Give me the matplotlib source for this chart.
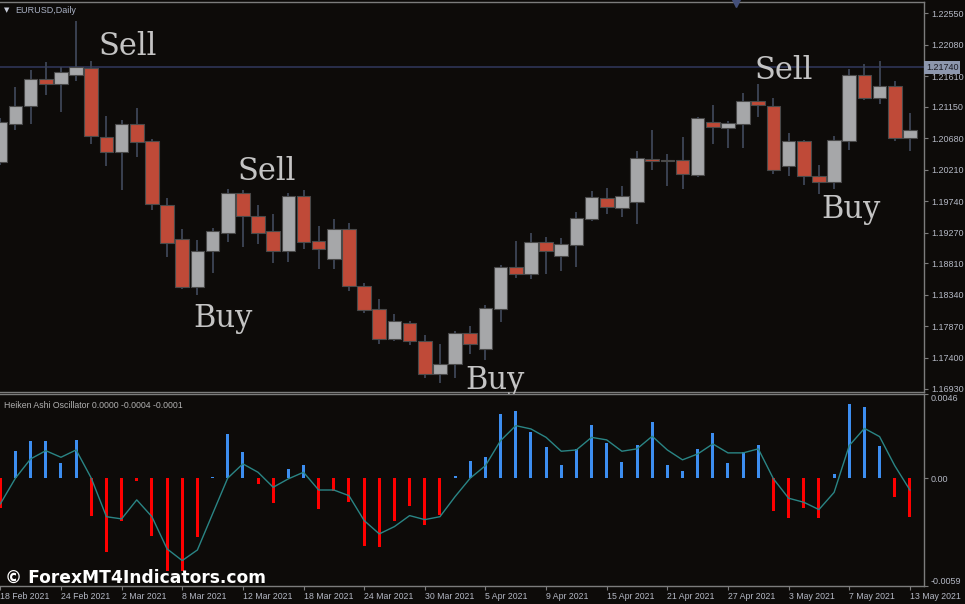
import matplotlib
matplotlib.use("Agg")
import matplotlib.pyplot as plt
import matplotlib.transforms as mtransforms

# ---------------- data ----------------
opens = [1.2033, 1.2090, 1.2117, 1.2156, 1.2149, 1.2163, 1.2173, 1.2070, 1.2048, 1.2090,
         1.2064, 1.1968, 1.1918, 1.1845, 1.1899, 1.1927, 1.1986, 1.1952, 1.1929, 1.1900,
         1.1981, 1.1914, 1.1887, 1.1933, 1.1847, 1.1812, 1.1767, 1.1791, 1.1764, 1.1716,
         1.1730, 1.1777, 1.1753, 1.1813, 1.1875, 1.1865, 1.1913, 1.1892, 1.1909, 1.1947,
         1.1978, 1.1963, 1.1972, 1.2037, 1.2034, 1.2035, 1.2013, 1.2093, 1.2084, 1.2089,
         1.2124, 1.2117, 1.2027, 1.2064, 1.2011, 1.2003, 1.2064, 1.2163, 1.2128, 1.2147,
         1.2069]
closes = [1.2092, 1.2117, 1.2156, 1.2149, 1.2167, 1.2174, 1.2072, 1.2048, 1.2090, 1.2062,
          1.1969, 1.1912, 1.1845, 1.1900, 1.1929, 1.1986, 1.1952, 1.1926, 1.1900, 1.1981,
          1.1913, 1.1903, 1.1933, 1.1847, 1.1811, 1.1767, 1.1794, 1.1765, 1.1716, 1.1730,
          1.1777, 1.1760, 1.1814, 1.1875, 1.1865, 1.1913, 1.1900, 1.1910, 1.1949, 1.1980,
          1.1965, 1.1981, 1.2038, 1.2034, 1.2036, 1.2014, 1.2098, 1.2085, 1.2091, 1.2124,
          1.2118, 1.2020, 1.2064, 1.2012, 1.2003, 1.2065, 1.2163, 1.2128, 1.2147, 1.2069,
          1.2080]
highs = [1.2098, 1.2145, 1.2170, 1.2182, 1.2175, 1.2244, 1.2184, 1.2102, 1.2095, 1.2113,
         1.2067, 1.1978, 1.1933, 1.1916, 1.1934, 1.1992, 1.1990, 1.1968, 1.1954, 1.1986,
         1.1990, 1.1937, 1.1947, 1.1941, 1.1852, 1.1827, 1.1805, 1.1794, 1.1774, 1.1760,
         1.1780, 1.1787, 1.1819, 1.1878, 1.1914, 1.1927, 1.1920, 1.1919, 1.1957, 1.1989,
         1.1994, 1.1996, 1.2049, 1.2080, 1.2044, 1.2070, 1.2100, 1.2118, 1.2094, 1.2136,
         1.2150, 1.2128, 1.2076, 1.2065, 1.2028, 1.2072, 1.2172, 1.2179, 1.2183, 1.2153,
         1.2106]
lows = [1.2028, 1.2080, 1.2089, 1.2133, 1.2108, 1.2154, 1.2059, 1.2026, 1.1990, 1.2040,
        1.1960, 1.1891, 1.1842, 1.1834, 1.1867, 1.1913, 1.1905, 1.1910, 1.1881, 1.1883,
        1.1903, 1.1872, 1.1872, 1.1840, 1.1807, 1.1760, 1.1765, 1.1759, 1.1709, 1.1702,
        1.1710, 1.1746, 1.1736, 1.1793, 1.1859, 1.1858, 1.1865, 1.1870, 1.1875, 1.1945,
        1.1954, 1.1950, 1.1940, 1.2020, 1.1996, 1.1992, 1.2010, 1.2059, 1.2054, 1.2053,
        1.2100, 1.2014, 1.2012, 1.1998, 1.1985, 1.1992, 1.2051, 1.2125, 1.2120, 1.2064,
        1.2049]

osc = [-0.00163, 0.00150, 0.00201, 0.00205, 0.00081, 0.00210, -0.00205, -0.00406, -0.00236, -0.00014,
       -0.00318, -0.00510, -0.00510, -0.00324, 0.00005, 0.00242, 0.00145, -0.00032, -0.00138, 0.00050,
       0.00072, -0.00168, -0.00068, -0.00132, -0.00369, -0.00375, -0.00236, -0.00150, -0.00256, -0.00200,
       0.00012, 0.00096, 0.00118, 0.00351, 0.00369, 0.00250, 0.00168, 0.00074, 0.00158, 0.00293,
       0.00190, 0.00090, 0.00183, 0.00309, 0.00074, 0.00039, 0.00158, 0.00247, 0.00081, 0.00141,
       0.00183, -0.00178, -0.00220, -0.00163, -0.00220, 0.00023, 0.00406, 0.00387, 0.00174, -0.00101,
       -0.00211]
signal = [-0.00141, 0.00000, 0.00105, 0.00150, 0.00114, 0.00154, 0.00000, -0.00211, -0.00223, -0.00119,
          -0.00211, -0.00387, -0.00451, -0.00393, -0.00196, 0.00000, 0.00078, 0.00032, -0.00050, -0.00004,
          0.00032, -0.00065, -0.00065, -0.00096, -0.00232, -0.00305, -0.00265, -0.00205, -0.00227, -0.00211,
          -0.00101, 0.00000, 0.00068, 0.00205, 0.00287, 0.00269, 0.00223, 0.00147, 0.00154, 0.00223,
          0.00209, 0.00147, 0.00160, 0.00229, 0.00154, 0.00100, 0.00132, 0.00187, 0.00138, 0.00138,
          0.00160, -0.00004, -0.00110, -0.00132, -0.00172, -0.00078, 0.00178, 0.00272, 0.00227, 0.00068,
          -0.00065]

date_ticks = [0, 4, 8, 12, 16, 20, 24, 28, 32, 36, 40, 44, 48, 52, 56, 60]
date_labels = ["18 Feb 2021", "24 Feb 2021", "2 Mar 2021", "8 Mar 2021", "12 Mar 2021",
               "18 Mar 2021", "24 Mar 2021", "30 Mar 2021", "5 Apr 2021", "9 Apr 2021",
               "15 Apr 2021", "21 Apr 2021", "27 Apr 2021", "3 May 2021", "7 May 2021",
               "13 May 2021"]
price_ticks = [1.22550, 1.22080, 1.21610, 1.21150, 1.20680, 1.20210, 1.19740,
               1.19270, 1.18810, 1.18340, 1.17870, 1.17400, 1.16930]
osc_ticks = [0.0046, 0.0, -0.0059]
osc_tick_labels = ["0.0046", "0.00", "-0.0059"]
current_price = 1.21740

signals_text = ["Sell", "Sell", "Buy", "Buy", "Sell", "Buy"]
signals_x = [6.46, 15.63, 12.73, 30.70, 49.72, 54.18]
signals_y = [1.21926, 1.20056, 1.17861, 1.16929, 1.21567, 1.19483]

# ---------------- style ----------------
BG = "#0d0b09"
UP = "#a6a7a9"
DN = "#bf4a38"
WICK = "#3a4150"
EDGE = "#4a4a4a"
AXC = "#7c7c7c"
TXT = "#b4b8c4"

W, H = 965, 604
fig = plt.figure(figsize=(W / 100, H / 100), dpi=100, facecolor=BG)

def px_axes(left, top, right, bottom):
    return fig.add_axes([left / W, 1 - bottom / H, (right - left) / W, (bottom - top) / H])

ax1 = px_axes(0, 1.5, 924, 392)
ax2 = px_axes(0, 394, 924, 586)

xlim = (-0.02, 60.93)
n = len(opens)
xs = list(range(n))

for ax in (ax1, ax2):
    ax.set_facecolor(BG)
    ax.set_xlim(*xlim)
    for s in ("top", "right", "bottom"):
        ax.spines[s].set_color(AXC)
        ax.spines[s].set_linewidth(1.0)
    ax.spines["left"].set_visible(False)
    ax.yaxis.tick_right()
    ax.tick_params(axis="y", colors=AXC, labelcolor=TXT, length=3, width=0.8,
                   labelsize=6.5, pad=2)

# ---------------- candles ----------------
ax1.set_ylim(1.16884, 1.22727)
ax1.axhline(current_price, color="#2b3150", lw=1.3, zorder=1)
for i in xs:
    o, c, h, l = opens[i], closes[i], highs[i], lows[i]
    col = UP if c >= o else DN
    ax1.vlines(i, l, h, color=WICK, lw=1.4, zorder=2)
    ax1.bar(i, max(abs(c - o), 0.00003), bottom=min(o, c), width=0.9, color=col,
            edgecolor=EDGE, linewidth=0.8, zorder=3)

ax1.set_xticks([])
ax1.set_yticks(price_ticks)
ax1.set_yticklabels([f"{v:.5f}" for v in price_ticks], family="Liberation Sans")

# current price label
trans = mtransforms.blended_transform_factory(ax1.transAxes, ax1.transData)
ax1.text(1.002, current_price, f"{current_price:.5f}", transform=trans, ha="left",
         va="center", fontsize=6.5, family="Liberation Sans", color="#1a1a22",
         bbox=dict(boxstyle="square,pad=0.22", fc="#8d97ad", ec="none"), zorder=10,
         clip_on=False)

for t, x, y in zip(signals_text, signals_x, signals_y):
    ax1.text(x, y, t, ha="left", va="baseline", fontsize=22, family="DejaVu Serif",
             color="#c4c4c4", zorder=8)

ax1.text(0.004, 0.985, "\u25BC", transform=ax1.transAxes, fontsize=5, color="#c8ccd8",
         ha="left", va="top")
ax1.text(0.016, 0.988, "EURUSD,Daily", transform=ax1.transAxes, fontsize=6.5,
         family="Liberation Sans", color="#a9b1c4", ha="left", va="top")
ax1.plot([736 / 924], [0.997], marker="v", ms=6, color="#44507a",
         transform=ax1.transAxes, clip_on=False, zorder=9)

# ---------------- oscillator ----------------
ax2.set_ylim(-0.0059, 0.0046)
colors = ["#3d8ef0" if v >= 0 else "#ff0000" for v in osc]
ax2.bar(xs, osc, width=0.2, color=colors, zorder=3)
ax2.plot(xs, signal, color="#2a8585", lw=1.0, zorder=4)
ax2.set_yticks(osc_ticks)
ylabels = ax2.set_yticklabels(osc_tick_labels, family="Liberation Sans")
ylabels[0].set_va("top")
ylabels[-1].set_va("bottom")
ax2.set_xticks(date_ticks)
xl = ax2.set_xticklabels(date_labels, family="Liberation Sans")
for lb in xl:
    lb.set_ha("left")
ax2.tick_params(axis="x", colors=AXC, labelcolor=TXT, length=3, width=0.8,
                labelsize=6.3, pad=1)
ax2.text(0.004, 0.965, "Heiken Ashi Oscillator 0.0000 -0.0004 -0.0001",
         transform=ax2.transAxes, fontsize=6.3, family="Liberation Sans",
         color="#b0b0b0", ha="left", va="top")

fig.text(5 / W, 1 - 583 / H, "\u00A9 ForexMT4Indicators.com", fontsize=12.3,
         fontweight="bold", family="DejaVu Sans", color="white", ha="left",
         va="baseline")

fig.savefig("out.png", dpi=100, facecolor=BG)
